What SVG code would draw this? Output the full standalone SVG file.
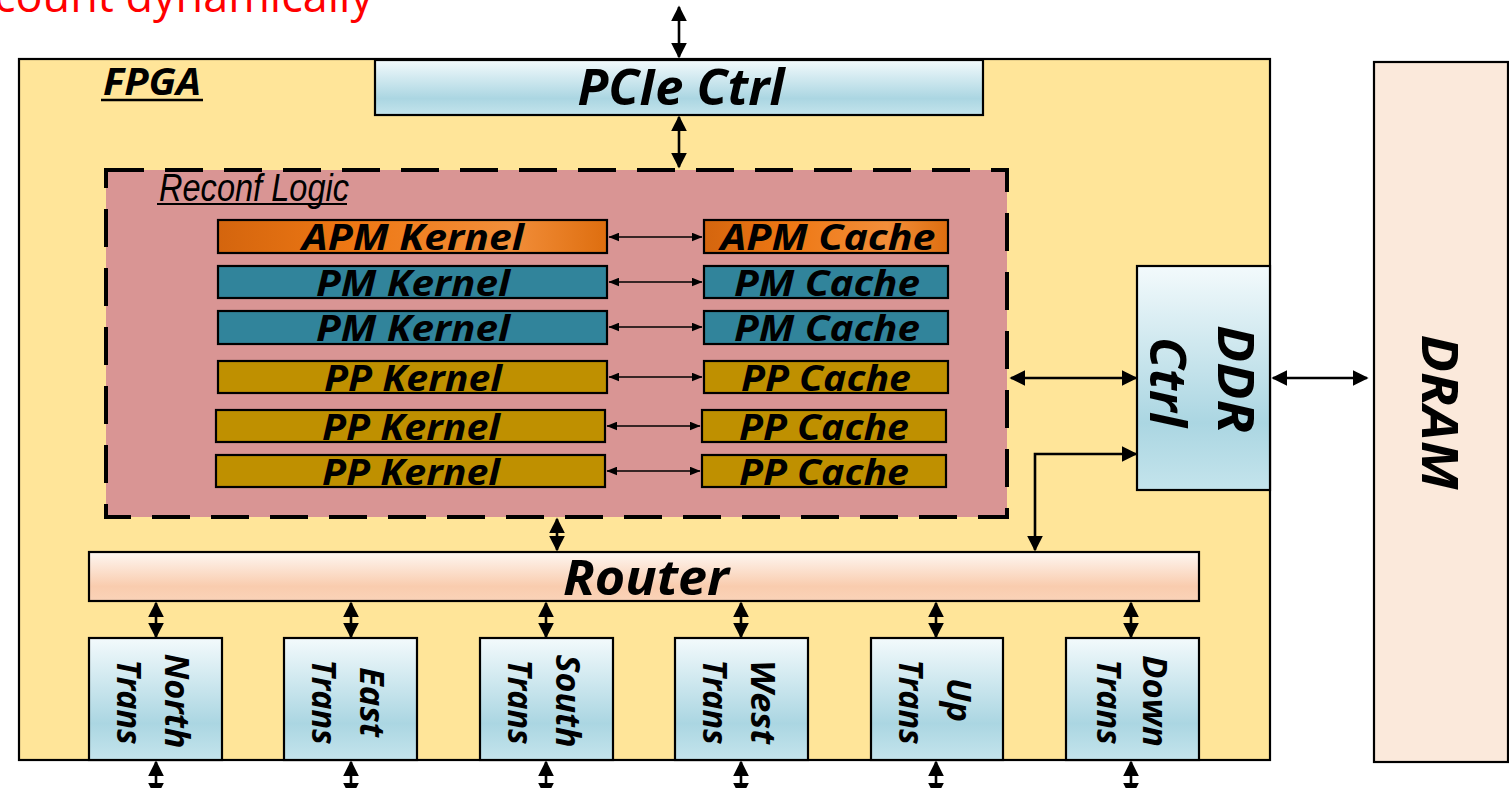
<svg xmlns="http://www.w3.org/2000/svg" width="1509" height="788" viewBox="0 0 1509 788">
<style>
.box{stroke:#000;stroke-width:2.2}
.lbl{font-family:"Open Sans","Liberation Sans",sans-serif;font-weight:bold;font-style:italic;fill:#000;text-anchor:middle}
.k{font-size:36px}
.big{font-size:50px}
.tr{font-size:34px}
.conn{stroke:#000;fill:none}
.c2{stroke-width:2.6;marker-start:url(#ah);marker-end:url(#ah)}
.c1{stroke-width:1.5;marker-start:url(#as);marker-end:url(#as)}
</style>
<defs>
<marker id="ah" viewBox="0 0 10 10" refX="9" refY="5" markerWidth="16" markerHeight="16" markerUnits="userSpaceOnUse" orient="auto-start-reverse"><path d="M0,0 L10,5 L0,10 z" fill="#000"/></marker>
<marker id="as" viewBox="0 0 10 10" refX="9.5" refY="5" markerWidth="11" markerHeight="9" markerUnits="userSpaceOnUse" orient="auto-start-reverse" preserveAspectRatio="none"><path d="M0,0 L10,5 L0,10 z" fill="#000"/></marker>
<linearGradient id="blueV" x1="0" y1="0" x2="0" y2="1"><stop offset="0" stop-color="#F3FAFC"/><stop offset="0.7" stop-color="#ABD6E2"/><stop offset="1" stop-color="#C4E4EC"/></linearGradient>
<linearGradient id="peachV" x1="0" y1="0" x2="0" y2="1"><stop offset="0" stop-color="#FEF7F2"/><stop offset="0.7" stop-color="#F9CCAE"/><stop offset="1" stop-color="#FAD3B8"/></linearGradient>
<linearGradient id="orangeH" x1="0" y1="0" x2="1" y2="0"><stop offset="0" stop-color="#D4650E"/><stop offset="0.35" stop-color="#EE7814"/><stop offset="0.75" stop-color="#F28E3A"/><stop offset="1" stop-color="#DE6E0F"/></linearGradient>
</defs>

<text x="373" y="12" font-family="'Open Sans','Liberation Sans',sans-serif" font-size="45" fill="#FF0000" text-anchor="end">count dynamically</text>

<g id="fpga">
<rect class="box" x="19" y="59" width="1251" height="701" fill="#FFE599"/>
<text class="lbl" x="103" y="95" font-size="37" style="text-anchor:start" textLength="98" lengthAdjust="spacingAndGlyphs">FPGA</text>
<line x1="101" y1="100" x2="203" y2="100" stroke="#000" stroke-width="2.5"/>
</g>

<g id="dram">
<rect class="box" x="1374" y="62" width="134" height="700" fill="#FBE9DB"/>
<text class="lbl big" transform="translate(1422,412) rotate(90)" x="0" y="0" textLength="155" lengthAdjust="spacingAndGlyphs">DRAM</text>
</g>

<g id="pcie">
<rect class="box" x="375" y="60" width="608" height="55" fill="url(#blueV)"/>
<text class="lbl big" x="681" y="105" textLength="207" lengthAdjust="spacingAndGlyphs">PCIe Ctrl</text>
</g>

<g id="reconf">
<rect x="106" y="170" width="901" height="347" fill="#D99594" stroke="#000" stroke-width="4" stroke-dasharray="38 21"/>
<text x="159" y="201" font-family="'Liberation Sans',sans-serif" font-style="italic" font-size="38" fill="#000" textLength="190" lengthAdjust="spacingAndGlyphs">Reconf Logic</text>
<line x1="157" y1="204" x2="347" y2="204" stroke="#000" stroke-width="2"/>
</g>

<g id="apm-kernel"><rect class="box" x="218" y="220" width="389" height="33" fill="url(#orangeH)"/><text class="lbl k" x="413" y="250" textLength="222" lengthAdjust="spacingAndGlyphs">APM Kernel</text></g>
<g id="pm-kernel-1"><rect class="box" x="218" y="266" width="389" height="32" fill="#31849B"/><text class="lbl k" x="413" y="296" textLength="194" lengthAdjust="spacingAndGlyphs">PM Kernel</text></g>
<g id="pm-kernel-2"><rect class="box" x="218" y="311" width="389" height="33" fill="#31849B"/><text class="lbl k" x="413" y="341" textLength="194" lengthAdjust="spacingAndGlyphs">PM Kernel</text></g>
<g id="pp-kernel-1"><rect class="box" x="218" y="361" width="389" height="32" fill="#BF9000"/><text class="lbl k" x="413" y="391" textLength="178" lengthAdjust="spacingAndGlyphs">PP Kernel</text></g>
<g id="pp-kernel-2"><rect class="box" x="216" y="410" width="389" height="32" fill="#BF9000"/><text class="lbl k" x="411" y="440" textLength="178" lengthAdjust="spacingAndGlyphs">PP Kernel</text></g>
<g id="pp-kernel-3"><rect class="box" x="216" y="455" width="389" height="32" fill="#BF9000"/><text class="lbl k" x="411" y="485" textLength="178" lengthAdjust="spacingAndGlyphs">PP Kernel</text></g>

<g id="apm-cache"><rect class="box" x="704" y="220" width="244" height="33" fill="url(#orangeH)"/><text class="lbl k" x="828" y="250" textLength="215" lengthAdjust="spacingAndGlyphs">APM Cache</text></g>
<g id="pm-cache-1"><rect class="box" x="704" y="266" width="244" height="32" fill="#31849B"/><text class="lbl k" x="827" y="296" textLength="186" lengthAdjust="spacingAndGlyphs">PM Cache</text></g>
<g id="pm-cache-2"><rect class="box" x="704" y="311" width="244" height="33" fill="#31849B"/><text class="lbl k" x="827" y="341" textLength="186" lengthAdjust="spacingAndGlyphs">PM Cache</text></g>
<g id="pp-cache-1"><rect class="box" x="704" y="361" width="244" height="32" fill="#BF9000"/><text class="lbl k" x="826" y="391" textLength="170" lengthAdjust="spacingAndGlyphs">PP Cache</text></g>
<g id="pp-cache-2"><rect class="box" x="702" y="410" width="244" height="32" fill="#BF9000"/><text class="lbl k" x="824" y="440" textLength="170" lengthAdjust="spacingAndGlyphs">PP Cache</text></g>
<g id="pp-cache-3"><rect class="box" x="702" y="455" width="244" height="32" fill="#BF9000"/><text class="lbl k" x="824" y="485" textLength="170" lengthAdjust="spacingAndGlyphs">PP Cache</text></g>

<g id="ddr-ctrl">
<rect class="box" x="1137" y="266" width="133" height="224" fill="url(#blueV)"/>
<text class="lbl big" transform="translate(1218,379) rotate(90)" x="0" y="0" textLength="108" lengthAdjust="spacingAndGlyphs">DDR</text>
<text class="lbl big" transform="translate(1150,382) rotate(90)" x="0" y="0" textLength="90" lengthAdjust="spacingAndGlyphs">Ctrl</text>
</g>

<g id="router">
<rect class="box" x="89" y="552" width="1110" height="49" fill="url(#peachV)"/>
<text class="lbl" x="646" y="595" font-size="48" textLength="166" lengthAdjust="spacingAndGlyphs">Router</text>
</g>

<g id="north-trans"><rect class="box" x="89" y="638" width="133" height="122" fill="url(#blueV)"/><text class="lbl tr" transform="translate(165,701) rotate(90)" textLength="95" lengthAdjust="spacingAndGlyphs">North</text><text class="lbl tr" transform="translate(117,702) rotate(90)" textLength="85" lengthAdjust="spacingAndGlyphs">Trans</text></g>
<g id="east-trans"><rect class="box" x="284" y="638" width="133" height="122" fill="url(#blueV)"/><text class="lbl tr" transform="translate(360,702) rotate(90)" textLength="70" lengthAdjust="spacingAndGlyphs">East</text><text class="lbl tr" transform="translate(312,702) rotate(90)" textLength="85" lengthAdjust="spacingAndGlyphs">Trans</text></g>
<g id="south-trans"><rect class="box" x="480" y="638" width="133" height="122" fill="url(#blueV)"/><text class="lbl tr" transform="translate(556,701) rotate(90)" textLength="93" lengthAdjust="spacingAndGlyphs">South</text><text class="lbl tr" transform="translate(508,702) rotate(90)" textLength="85" lengthAdjust="spacingAndGlyphs">Trans</text></g>
<g id="west-trans"><rect class="box" x="675" y="638" width="133" height="122" fill="url(#blueV)"/><text class="lbl tr" transform="translate(751,702) rotate(90)" textLength="84" lengthAdjust="spacingAndGlyphs">West</text><text class="lbl tr" transform="translate(703,702) rotate(90)" textLength="85" lengthAdjust="spacingAndGlyphs">Trans</text></g>
<g id="up-trans"><rect class="box" x="871" y="638" width="132" height="122" fill="url(#blueV)"/><text class="lbl tr" transform="translate(947,700) rotate(90)" textLength="44" lengthAdjust="spacingAndGlyphs">Up</text><text class="lbl tr" transform="translate(899,702) rotate(90)" textLength="85" lengthAdjust="spacingAndGlyphs">Trans</text></g>
<g id="down-trans"><rect class="box" x="1066" y="638" width="133" height="122" fill="url(#blueV)"/><text class="lbl tr" transform="translate(1143,701) rotate(90)" textLength="92" lengthAdjust="spacingAndGlyphs">Down</text><text class="lbl tr" transform="translate(1097,702) rotate(90)" textLength="85" lengthAdjust="spacingAndGlyphs">Trans</text></g>

<g id="connectors">
<line class="conn c2" x1="679" y1="7" x2="679" y2="57"/>
<line class="conn c2" x1="679" y1="117" x2="679" y2="167"/>
<line class="conn c1" x1="609" y1="237" x2="702" y2="237"/>
<line class="conn c1" x1="609" y1="282" x2="702" y2="282"/>
<line class="conn c1" x1="609" y1="327" x2="702" y2="327"/>
<line class="conn c1" x1="609" y1="377" x2="702" y2="377"/>
<line class="conn c1" x1="607" y1="426" x2="700" y2="426"/>
<line class="conn c1" x1="607" y1="471" x2="700" y2="471"/>
<line class="conn c2" x1="1011" y1="378" x2="1136" y2="378"/>
<line class="conn c2" x1="1273" y1="378" x2="1367" y2="378"/>
<path class="conn c2" d="M1035,550 V454 H1136"/>
<line class="conn c2" x1="557" y1="519" x2="557" y2="550"/>
<line class="conn c2" x1="156" y1="603" x2="156" y2="637"/>
<line class="conn c2" x1="351" y1="603" x2="351" y2="637"/>
<line class="conn c2" x1="546" y1="603" x2="546" y2="637"/>
<line class="conn c2" x1="741" y1="603" x2="741" y2="637"/>
<line class="conn c2" x1="936" y1="603" x2="936" y2="637"/>
<line class="conn c2" x1="1131" y1="603" x2="1131" y2="637"/>
<line class="conn c2" x1="156" y1="762" x2="156" y2="797"/>
<line class="conn c2" x1="351" y1="762" x2="351" y2="797"/>
<line class="conn c2" x1="546" y1="762" x2="546" y2="797"/>
<line class="conn c2" x1="741" y1="762" x2="741" y2="797"/>
<line class="conn c2" x1="936" y1="762" x2="936" y2="797"/>
<line class="conn c2" x1="1131" y1="762" x2="1131" y2="797"/>
</g>
</svg>
